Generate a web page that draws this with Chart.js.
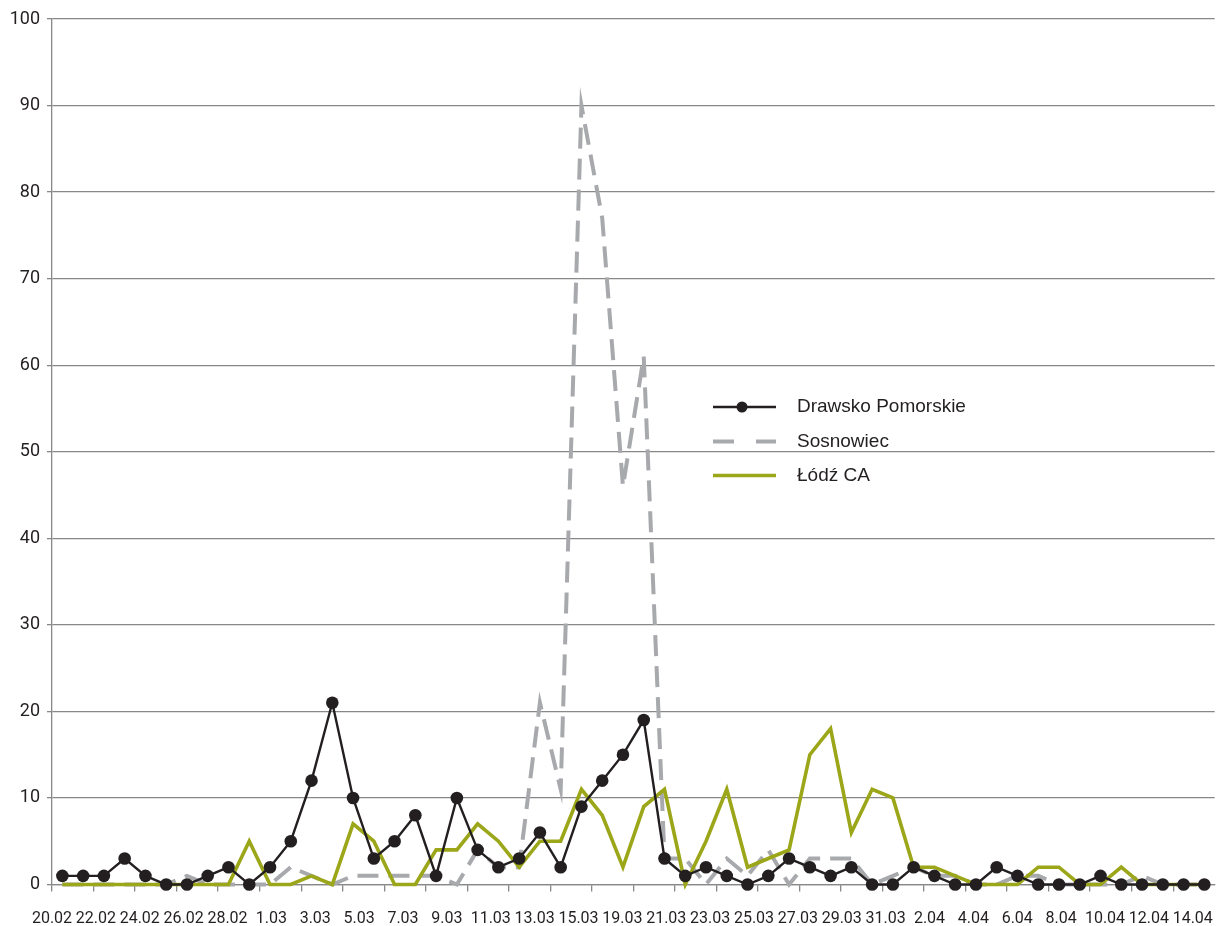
<!DOCTYPE html>
<html>
<head>
<meta charset="utf-8">
<title>Drawsko Pomorskie / Sosnowiec / Łódź CA</title>
<script src="https://cdn.jsdelivr.net/npm/chart.js@4.4.1/dist/chart.umd.min.js"></script>
<style>
  html, body { margin: 0; padding: 0; background: #fff; }
  #wrap { width: 1221px; height: 926px; }
</style>
</head>
<body>
<div id="wrap"><canvas id="chart" width="1221" height="926"></canvas></div>
<script>
// one category per day (2012)
const days = [
  '20.02', '21.02', '22.02', '23.02', '24.02', '25.02', '26.02', '27.02', '28.02', '29.02',
  '1.03', '2.03', '3.03', '4.03', '5.03', '6.03', '7.03', '8.03', '9.03', '10.03',
  '11.03', '12.03', '13.03', '14.03', '15.03', '16.03', '17.03', '18.03', '19.03', '20.03',
  '21.03', '22.03', '23.03', '24.03', '25.03', '26.03', '27.03', '28.03', '29.03', '30.03',
  '31.03', '1.04', '2.04', '3.04', '4.04', '5.04', '6.04', '7.04', '8.04', '9.04',
  '10.04', '11.04', '12.04', '13.04', '14.04', '15.04'
];

// labels printed under the axis
const tickLabels = [
  '20.02', '22.02', '24.02', '26.02', '28.02', '1.03', '3.03', '5.03', '7.03',
  '9.03', '11.03', '13.03', '15.03', '19.03', '21.03', '23.03', '25.03', '27.03',
  '29.03', '31.03', '2.04', '4.04', '6.04', '8.04', '10.04', '12.04', '14.04'
];

const drawsko = [
  1, 1, 1, 3, 1, 0, 0, 1, 2, 0,
  2, 5, 12, 21, 10, 3, 5, 8, 1, 10,
  4, 2, 3, 6, 2, 9, 12, 15, 19, 3,
  1, 2, 1, 0, 1, 3, 2, 1, 2, 0,
  0, 2, 1, 0, 0, 2, 1, 0, 0, 0,
  1, 0, 0, 0, 0, 0
];

const sosnowiec = [
  0, 0, 0, 0, 0, 0, 1, 0, 0, 0,
  0, 2, 1, 0, 1, 1, 1, 1, 1, 0,
  4, 2, 2, 21, 11, 90, 77, 46, 61, 3,
  3, 0, 3, 1, 4, 0, 3, 3, 3, 0,
  1, 2, 1, 1, 0, 0, 1, 1, 0, 0,
  0, 0, 1, 0, 0, 0
];

const lodz = [
  0, 0, 0, 0, 0, 0, 0, 0, 0, 5,
  0, 0, 1, 0, 7, 5, 0, 0, 4, 4,
  7, 5, 2, 5, 5, 11, 8, 2, 9, 11,
  0, 5, 11, 2, 3, 4, 15, 18, 6, 11,
  10, 2, 2, 1, 0, 0, 0, 2, 2, 0,
  0, 2, 0, 0, 0, 0
];

const yTicks = [0, 10, 20, 30, 40, 50, 60, 70, 80, 90, 100];

const GRID = '#888888';
const INK = '#231f20';

// legend drawn inside the plot, like the original
const innerLegend = {
  id: 'innerLegend',
  afterDraw(chart) {
    const ctx = chart.ctx;
    const x0 = 713, len = 63, tx = 797;
    const rows = [407, 441.5, 475.5];
    ctx.save();
    chart.data.datasets.forEach((ds, i) => {
      const y = rows[i];
      ctx.beginPath();
      ctx.strokeStyle = ds.borderColor;
      ctx.lineWidth = ds.borderWidth;
      ctx.setLineDash(ds.borderDash && ds.borderDash.length ? [21, 22] : []);
      ctx.moveTo(x0, y);
      ctx.lineTo(x0 + len, y);
      ctx.stroke();
      ctx.setLineDash([]);
      if (ds.pointRadius > 0) {
        ctx.beginPath();
        ctx.fillStyle = ds.pointBackgroundColor;
        ctx.arc(x0 + 29, y, 5.5, 0, Math.PI * 2);
        ctx.fill();
      }
      ctx.fillStyle = INK;
      ctx.font = "19px 'Liberation Sans', Arial, sans-serif";
      ctx.textBaseline = 'middle';
      ctx.textAlign = 'left';
      ctx.fillText(ds.label, tx, y);
    });
    ctx.restore();
  }
};

new Chart(document.getElementById('chart').getContext('2d'), {
  type: 'line',
  data: {
    labels: days,
    datasets: [{
      label: 'Drawsko Pomorskie',
      data: drawsko,
      borderColor: INK,
      backgroundColor: INK,
      borderWidth: 2.4,
      pointRadius: 6.3,
      pointBackgroundColor: INK,
      pointBorderWidth: 0,
      order: 0,
      clip: false
    }, {
      label: 'Sosnowiec',
      data: sosnowiec,
      borderColor: '#a7a9ac',
      backgroundColor: '#a7a9ac',
      borderWidth: 4,
      borderDash: [21, 10],
      pointRadius: 0,
      order: 2,
      clip: false
    }, {
      label: 'Łódź CA',
      data: lodz,
      borderColor: '#9ca619',
      backgroundColor: '#9ca619',
      borderWidth: 3.6,
      pointRadius: 0,
      order: 1,
      clip: false
    }]
  },
  options: {
    responsive: false,
    animation: false,
    events: [],
    layout: { padding: { top: 19, right: 1, left: 0, bottom: 0 } },
    elements: { line: { tension: 0, borderCapStyle: 'butt', borderJoinStyle: 'miter' } },
    plugins: {
      legend: { display: false },
      tooltip: { enabled: false }
    },
    scales: {
      x: {
        type: 'category',
        position: 'bottom',
        weight: 0,
        offset: true,
        ticks: { display: false, autoSkip: false },
        grid: {
          offset: true,
          drawOnChartArea: false,
          drawTicks: true,
          tickLength: 7,
          lineWidth: 1.3,
          color: (c) => (c.index % 2 === 0 ? GRID : 'rgba(0,0,0,0)')
        },
        border: { display: true, color: GRID, width: 1.3 },
        afterFit: (s) => { s.height = 7; s.paddingLeft = 0; s.paddingRight = 0; }
      },
      xl: {
        type: 'linear',
        position: 'bottom',
        weight: 1,
        min: 0,
        max: 26.5,
        afterBuildTicks: (s) => { s.ticks = tickLabels.map((_, i) => ({ value: i })); },
        ticks: {
          autoSkip: false,
          maxRotation: 0,
          padding: 18,
          color: INK,
          font: { family: 'Roboto, sans-serif', size: 16 },
          callback: (v) => tickLabels[v]
        },
        grid: { display: false, drawTicks: false },
        border: { display: false },
        afterFit: (s) => { s.height = 34.5; s.paddingLeft = 0; s.paddingRight = 0; }
      },
      y: {
        min: 0,
        max: 100,
        afterBuildTicks: (s) => { s.ticks = yTicks.map((v) => ({ value: v })); },
        ticks: {
          padding: 7,
          color: INK,
          font: { family: 'Roboto, sans-serif', size: 18 }
        },
        grid: { color: GRID, lineWidth: 1.3, tickLength: 5 },
        border: { display: true, color: GRID, width: 1.3 },
        afterFit: (s) => { s.width = 52; }
      }
    }
  },
  plugins: [innerLegend]
});
</script>
</body>
</html>
